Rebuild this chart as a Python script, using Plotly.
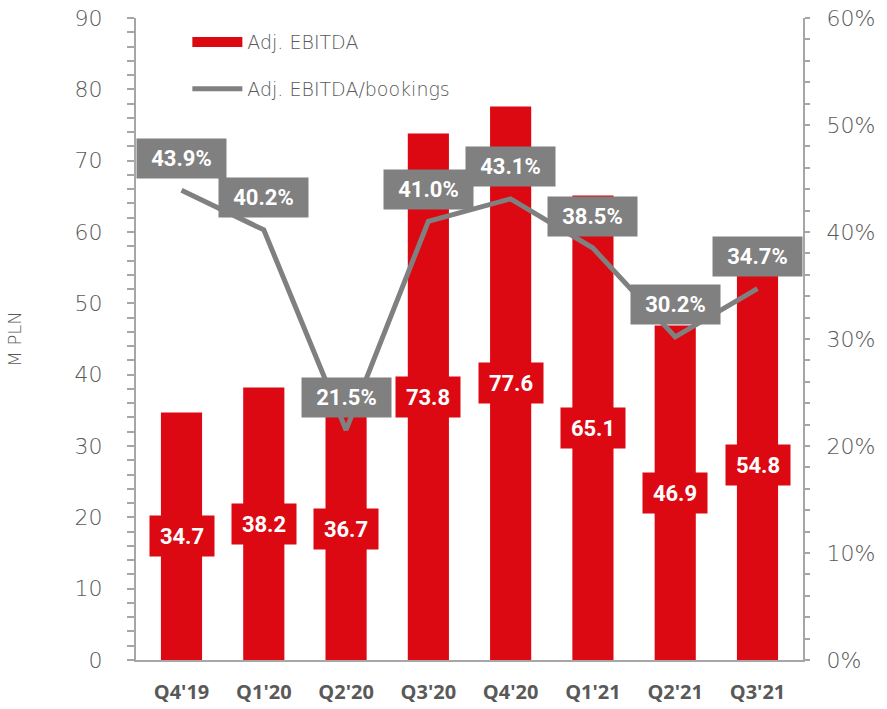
import plotly.graph_objects as go

categories = ["Q4'19", "Q1'20", "Q2'20", "Q3'20", "Q4'20", "Q1'21", "Q2'21", "Q3'21"]
ebitda = [34.7, 38.2, 36.7, 73.8, 77.6, 65.1, 46.9, 54.8]
ebitda_pct = [43.9, 40.2, 21.5, 41.0, 43.1, 38.5, 30.2, 34.7]

RED = "#DC0812"
GRAY = "#808080"
TXT = "#595959"
AX = "#A6A6A6"
FONT = "Roboto"
TICKFONT = "DejaVu Sans"

fig = go.Figure()
fig.add_trace(go.Bar(x=categories, y=ebitda, name="Adj. EBITDA", showlegend=False,
                     marker=dict(color=RED, line=dict(width=0)), width=0.5))
# legend-only entry for the bars (wide red swatch like the original)
fig.add_trace(go.Scatter(x=[None], y=[None], name="Adj. EBITDA", mode="lines",
                         line=dict(color=RED, width=12), legendgroup="a"))
fig.add_trace(go.Scatter(x=categories, y=ebitda_pct, name="Adj. EBITDA/bookings",
                         mode="lines", line=dict(color=GRAY, width=5), yaxis="y2",
                         legendgroup="b"))

anns = []
for c, v in zip(categories, ebitda):
    anns.append(dict(x=c, y=v / 2, xref="x", yref="y", text=f"<b>{v:.1f}</b>",
                     showarrow=False, bgcolor=RED, width=62, height=38,
                     font=dict(family=FONT, size=22, color="white")))
for c, v in zip(categories, ebitda_pct):
    anns.append(dict(x=c, y=v, xref="x", yref="y2", text=f"<b>{v:.1f}%</b>",
                     showarrow=False, bgcolor=GRAY, width=87, height=37, yshift=32,
                     font=dict(family=FONT, size=22, color="white")))

fig.update_layout(
    width=887, height=709,
    margin=dict(l=136, r=84, t=18, b=49, autoexpand=False),
    plot_bgcolor="white", paper_bgcolor="white",
    font=dict(family=FONT, color=TXT),
    showlegend=True,
    legend=dict(x=0.077, y=0.992, xanchor="left", yanchor="top",
                font=dict(family=TICKFONT, size=19, color=TXT, weight=200),
                bgcolor="rgba(0,0,0,0)", traceorder="grouped",
                tracegroupgap=19, itemwidth=50),
    bargap=0.5,
    annotations=anns,
    xaxis=dict(showline=True, linecolor=AX, linewidth=2, ticks="",
               tickfont=dict(family="Open Sans", size=20, color=TXT, weight="bold"),
               ticklabelstandoff=13, showgrid=False),
    yaxis=dict(range=[0, 90], dtick=10, showline=True, linecolor=AX, linewidth=2,
               ticks="outside", ticklen=7, tickcolor=AX, tickwidth=2,
               minor=dict(dtick=2, ticks="outside", ticklen=7, tickcolor=AX, tickwidth=2),
               showgrid=False, zeroline=False, ticklabelstandoff=20,
               ticklabeloverflow="allow",
               tickfont=dict(family=TICKFONT, size=22, color=TXT, weight=200),
               title=dict(text="M PLN", font=dict(family=TICKFONT, size=18, color=TXT, weight=200),
                          standoff=48)),
    yaxis2=dict(range=[0, 60], dtick=10, ticksuffix="%", overlaying="y", side="right",
                showline=True, linecolor=AX, linewidth=2,
                ticks="outside", ticklen=5, tickcolor=AX, tickwidth=2,
                minor=dict(dtick=2, ticks="outside", ticklen=5, tickcolor=AX, tickwidth=2),
                showgrid=False, zeroline=False, ticklabelstandoff=12,
                ticklabeloverflow="allow",
                tickfont=dict(family=TICKFONT, size=22, color=TXT, weight=200)),
)

fig.write_html("out.html", config={"displayModeBar": False},
               post_script="document.body.style.margin='0';document.body.style.overflow='hidden';")
